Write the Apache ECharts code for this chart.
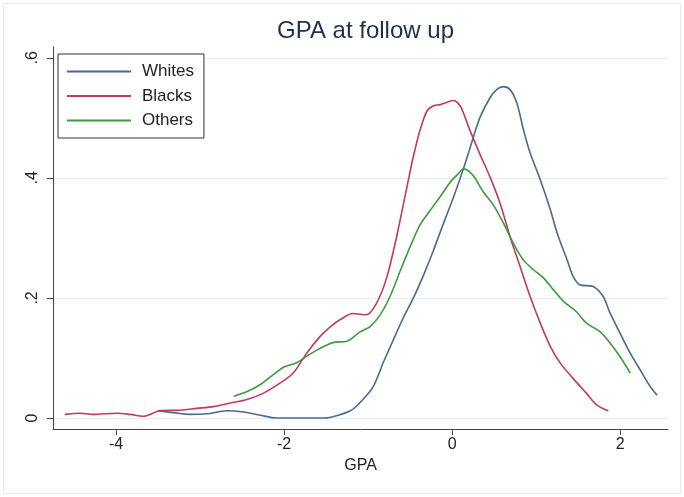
<!DOCTYPE html>
<html>
<head>
<meta charset="utf-8">
<script src="https://cdn.jsdelivr.net/npm/echarts@6/dist/echarts.min.js"></script>
<style>html,body{margin:0;padding:0;background:#fff}#c{width:684px;height:497px}</style>
</head>
<body>
<div id="c"></div>
<script>
const seriesNames = ['Whites', 'Blacks', 'Others'];
const xTickValues = [-4, -2, 0, 2];
const yTickValues = [0, 0.2, 0.4, 0.6];

const whitesX = [-3.50, -3.32, -3.12, -2.92, -2.68, -2.48, -2.29, -2.09, -1.80, -1.51, -1.37, -1.21, -1.10, -0.94, -0.82, -0.70, -0.58, -0.46, -0.34, -0.22, -0.10, 0.02, 0.13, 0.25, 0.33, 0.45, 0.53, 0.61, 0.69, 0.77, 0.85, 0.93, 1.05, 1.17, 1.25, 1.37, 1.44, 1.52, 1.68, 1.80, 1.88, 2.00, 2.12, 2.24, 2.36, 2.44];
const whitesY = [0.012, 0.009, 0.006, 0.007, 0.012, 0.010, 0.005, 0.000, 0.000, 0.000, 0.004, 0.012, 0.025, 0.052, 0.092, 0.130, 0.167, 0.200, 0.238, 0.280, 0.325, 0.369, 0.413, 0.466, 0.500, 0.533, 0.547, 0.552, 0.547, 0.525, 0.480, 0.441, 0.397, 0.347, 0.308, 0.263, 0.236, 0.222, 0.219, 0.202, 0.175, 0.141, 0.108, 0.080, 0.052, 0.038];

const blacksX = [-4.61, -4.43, -4.27, -3.99, -3.83, -3.67, -3.48, -3.24, -3.04, -2.84, -2.64, -2.44, -2.25, -2.05, -1.89, -1.73, -1.57, -1.45, -1.33, -1.18, -1.02, -0.90, -0.78, -0.66, -0.54, -0.46, -0.38, -0.30, -0.22, -0.14, -0.06, 0.02, 0.10, 0.21, 0.33, 0.45, 0.57, 0.69, 0.81, 0.93, 1.05, 1.17, 1.29, 1.44, 1.60, 1.72, 1.86];
const blacksY = [0.006, 0.008, 0.006, 0.008, 0.006, 0.003, 0.012, 0.013, 0.016, 0.019, 0.025, 0.031, 0.041, 0.058, 0.075, 0.108, 0.136, 0.152, 0.164, 0.174, 0.172, 0.191, 0.233, 0.302, 0.383, 0.436, 0.480, 0.511, 0.520, 0.522, 0.526, 0.529, 0.519, 0.480, 0.440, 0.402, 0.358, 0.302, 0.252, 0.202, 0.158, 0.119, 0.091, 0.066, 0.041, 0.022, 0.012];

const othersX = [-2.60, -2.44, -2.29, -2.13, -2.00, -1.85, -1.73, -1.57, -1.41, -1.25, -1.10, -0.98, -0.86, -0.74, -0.62, -0.50, -0.38, -0.26, -0.14, -0.02, 0.06, 0.14, 0.25, 0.37, 0.49, 0.61, 0.73, 0.85, 0.97, 1.09, 1.21, 1.33, 1.48, 1.60, 1.76, 1.88, 2.00, 2.12];
const othersY = [0.036, 0.044, 0.055, 0.072, 0.085, 0.092, 0.103, 0.116, 0.126, 0.128, 0.143, 0.152, 0.171, 0.202, 0.244, 0.285, 0.322, 0.346, 0.369, 0.393, 0.405, 0.415, 0.404, 0.377, 0.355, 0.325, 0.291, 0.263, 0.247, 0.233, 0.213, 0.194, 0.177, 0.158, 0.144, 0.125, 0.102, 0.075];

const colors = ['#4a6a90', '#c43a5c', '#3d9a3d'];

function pairs(xs, ys) { return xs.map((x, i) => [x, ys[i]]); }
const allData = [pairs(whitesX, whitesY), pairs(blacksX, blacksY), pairs(othersX, othersY)];

function fmtY(v) {
  if (Math.abs(v) < 1e-9) return '0';
  return String(Math.round(v * 10) / 10).replace(/^0\./, '.');
}

const chart = echarts.init(document.getElementById('c'));
chart.setOption({
  animation: false,
  backgroundColor: '#ffffff',
  textStyle: { fontFamily: 'Liberation Sans, Arial, sans-serif' },
  graphic: [{
    type: 'rect', silent: true, z: -10,
    shape: { x: 3.5, y: 3.5, width: 677, height: 490 },
    style: { fill: 'none', stroke: '#e2eaf0', lineWidth: 1 }
  }],
  title: {
    text: 'GPA at follow up',
    left: 360.5, top: 14, textAlign: 'center',
    textStyle: { fontSize: 24, fontWeight: 'normal', color: '#1f2f4f', fontFamily: 'Liberation Sans, Arial, sans-serif' }
  },
  legend: {
    orient: 'vertical', left: 58, top: 54,
    padding: [9, 10, 9, 9],
    itemWidth: 64, itemHeight: 2, itemGap: 7.5,
    icon: 'rect',
    borderColor: '#333', borderWidth: 1, borderRadius: 0,
    backgroundColor: '#fff',
    textStyle: { fontSize: 17, color: '#222', lineHeight: 16, padding: [0, 0, 0, 6] },
    data: seriesNames
  },
  grid: { left: 53, right: 16, top: 47, bottom: 68, containLabel: false },
  xAxis: {
    type: 'value', min: -4.75, max: 2.57,
    name: 'GPA', nameLocation: 'middle', nameGap: 28,
    nameTextStyle: { fontSize: 16, color: '#222' },
    axisLine: { show: true, onZero: false, lineStyle: { color: '#444', width: 1 } },
    axisTick: { show: true, length: 6, lineStyle: { color: '#444' }, customValues: xTickValues },
    axisLabel: { fontSize: 16, color: '#222', margin: 8, customValues: xTickValues },
    splitLine: { show: false }
  },
  yAxis: {
    type: 'value', min: -0.0183, max: 0.618,
    axisLine: { show: true, onZero: false, lineStyle: { color: '#444', width: 1 } },
    axisTick: { show: true, length: 6, lineStyle: { color: '#444' }, customValues: yTickValues },
    axisLabel: { fontSize: 16, color: '#222', margin: 12, rotate: 90, formatter: fmtY, customValues: yTickValues },
    splitLine: { show: true, lineStyle: { color: '#e3ecf1', width: 1 } }
  },
  series: seriesNames.map((n, i) => ({
    name: n, type: 'line', data: allData[i],
    showSymbol: false, smooth: 0.3,
    lineStyle: { color: colors[i], width: 1.6 },
    itemStyle: { color: colors[i] }
  }))
});
</script>
</body>
</html>
